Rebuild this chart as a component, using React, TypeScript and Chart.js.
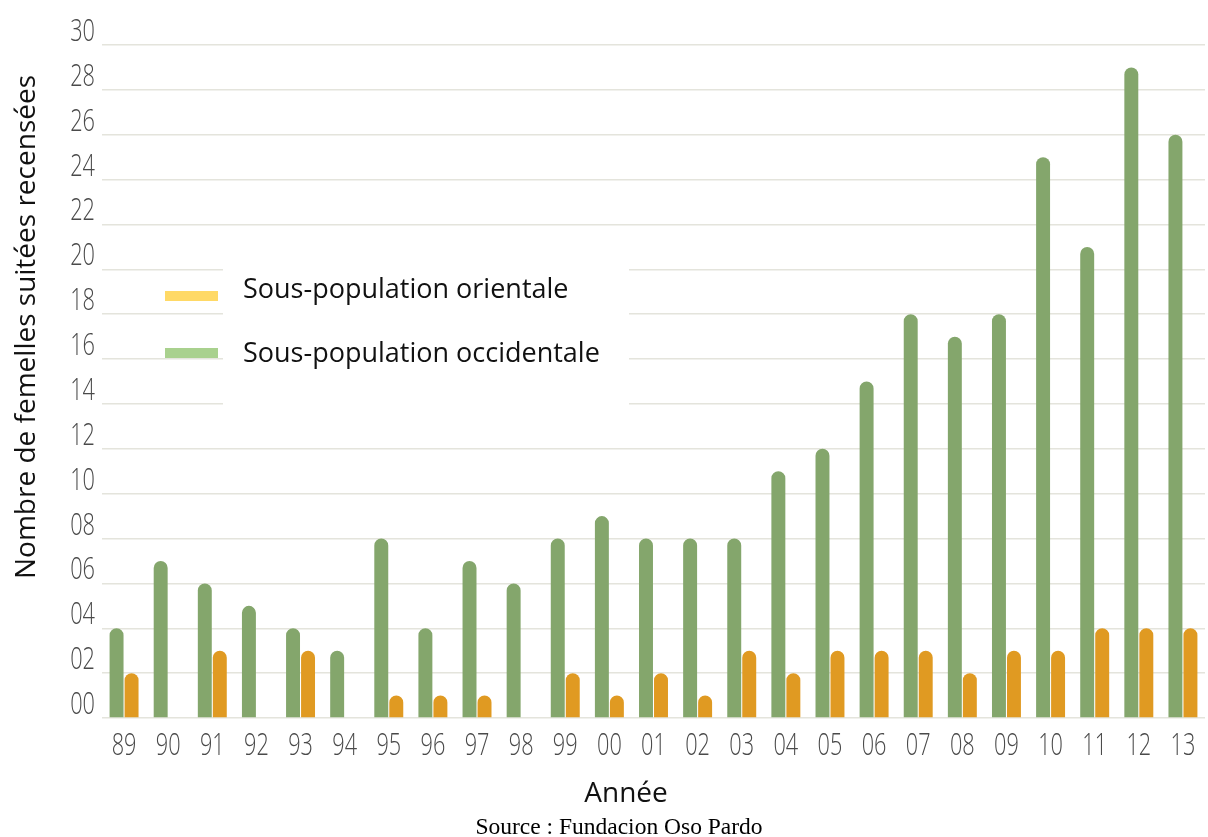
import React, { useEffect, useRef } from 'react';
import { Chart, registerables } from 'chart.js';

Chart.register(...registerables);

const years = ['89', '90', '91', '92', '93', '94', '95', '96', '97', '98', '99', '00', '01', '02', '03', '04', '05', '06', '07', '08', '09', '10', '11', '12', '13'];
const occidentale = [4, 7, 6, 5, 4, 3, 8, 4, 7, 6, 8, 9, 8, 8, 8, 11, 12, 15, 18, 17, 18, 25, 21, 29, 26];
const orientale = [2, 0, 3, 0, 3, 0, 1, 1, 1, 0, 2, 1, 2, 1, 3, 2, 3, 3, 3, 2, 3, 3, 4, 4, 4];
const yTickLabels = ['00', '02', '04', '06', '08', '10', '12', '14', '16', '18', '20', '22', '24', '26', '28', '30'];
const legendNames = ['Sous-population orientale', 'Sous-population occidentale'];
const yTitle = 'Nombre de femelles suitées recensées';
const xTitle = 'Année';
const sourceText = 'Source : Fundacion Oso Pardo';

const GREEN = '#84a66c';
const ORANGE = '#e09a22';
const LEGEND_COLORS = ['#ffd966', '#a9d18e'];
const SANS = "'Open Sans', 'Noto Sans', sans-serif";
const TICK_FONT = "300 31px 'Open Sans', 'Noto Sans', sans-serif";
const TICK_SX = 0.7;
const TICK_COLOR = '#4a4a4a';

const W = 1208;
const H = 837;

// Tick labels drawn condensed, positioned by the chart's own scales
const tickPlugin = {
  id: 'condensedTicks',
  afterDraw(chart: any) {
    const ctx = chart.ctx;
    const ys = chart.scales.y;
    const xs = chart.scales.x;
    ctx.save();
    ctx.font = TICK_FONT;
    ctx.fillStyle = TICK_COLOR;
    ctx.textBaseline = 'alphabetic';
    ctx.scale(TICK_SX, 1);
    // y ticks
    ctx.textAlign = 'right';
    ys.ticks.forEach((t: any, i: number) => {
      const label = yTickLabels[Math.round(t.value / 2)];
      if (label === undefined) return;
      const py = ys.getPixelForTick(i);
      ctx.fillText(label, 95 / TICK_SX, py - 4);
    });
    // x ticks
    ctx.textAlign = 'center';
    xs.ticks.forEach((t: any, i: number) => {
      const px = xs.getPixelForTick(i);
      ctx.fillText(years[i], px / TICK_SX, 755);
    });
    ctx.restore();
  },
};

const textPlugin = {
  id: 'customTexts',
  beforeDatasetsDraw(chart: any) {
    const ctx = chart.ctx;
    ctx.save();
    // legend box
    ctx.fillStyle = '#ffffff';
    ctx.fillRect(223, 258, 406, 157);
    // swatches
    ctx.fillStyle = LEGEND_COLORS[0];
    ctx.fillRect(165, 291, 53, 10);
    ctx.fillStyle = LEGEND_COLORS[1];
    ctx.fillRect(165, 348, 53, 10);
    ctx.fillStyle = '#111111';
    ctx.font = `27px ${SANS}`;
    ctx.textAlign = 'left';
    ctx.textBaseline = 'alphabetic';
    ctx.fillText(legendNames[0], 243, 298);
    ctx.fillText(legendNames[1], 243, 362);
    ctx.restore();
  },
  afterDraw(chart: any) {
    const ctx = chart.ctx;
    ctx.save();
    ctx.fillStyle = '#111111';
    ctx.textBaseline = 'alphabetic';
    ctx.textAlign = 'center';
    // y title
    ctx.save();
    ctx.translate(35, 327);
    ctx.rotate(-Math.PI / 2);
    ctx.font = `28px ${SANS}`;
    ctx.fillText(yTitle, 0, 0);
    ctx.restore();
    // x title
    ctx.font = `28px ${SANS}`;
    ctx.fillText(xTitle, 626, 802);
    // source
    ctx.fillStyle = '#000000';
    ctx.font = "23.5px 'Liberation Serif', 'Times New Roman', serif";
    ctx.fillText(sourceText, 619, 834);
    ctx.restore();
  },
};

export default function App() {
  const ref = useRef<HTMLCanvasElement>(null);

  useEffect(() => {
    if (!ref.current) return;
    const chart = new Chart(ref.current, {
      type: 'bar',
      data: {
        labels: years,
        datasets: [
          {
            label: legendNames[1],
            data: occidentale,
            backgroundColor: GREEN,
            borderWidth: 0,
            borderRadius: { topLeft: 7, topRight: 7, bottomLeft: 0, bottomRight: 0 },
            borderSkipped: false,
            categoryPercentage: 0.68,
            barPercentage: 0.93,
          },
          {
            label: legendNames[0],
            data: orientale,
            backgroundColor: ORANGE,
            borderWidth: 0,
            borderRadius: { topLeft: 7, topRight: 7, bottomLeft: 0, bottomRight: 0 },
            borderSkipped: false,
            categoryPercentage: 0.68,
            barPercentage: 0.93,
          },
        ],
      },
      options: {
        responsive: false,
        animation: false,
        layout: { padding: { top: 45, right: 3, bottom: 0, left: 0 } },
        plugins: {
          legend: { display: false },
          tooltip: { enabled: false },
          title: { display: false },
        },
        scales: {
          x: {
            grid: { display: false, drawTicks: false },
            border: { display: false },
            ticks: { display: false, autoSkip: false, maxRotation: 0 },
            afterFit(scale: any) {
              scale.height = H - 718;
            },
          },
          y: {
            min: 0,
            max: 30,
            grid: { color: '#e4e4dc', lineWidth: 1.5, drawTicks: false },
            border: { display: false },
            ticks: { display: false, stepSize: 2 },
            afterFit(scale: any) {
              scale.width = 102;
            },
          },
        },
      },
      plugins: [textPlugin, tickPlugin],
    });
    return () => chart.destroy();
  }, []);

  return (
    <div style={{ position: 'absolute', left: 0, top: 0, width: W, height: H, background: '#ffffff' }}>
      <canvas ref={ref} width={W} height={H} style={{ display: 'block' }} />
    </div>
  );
}
